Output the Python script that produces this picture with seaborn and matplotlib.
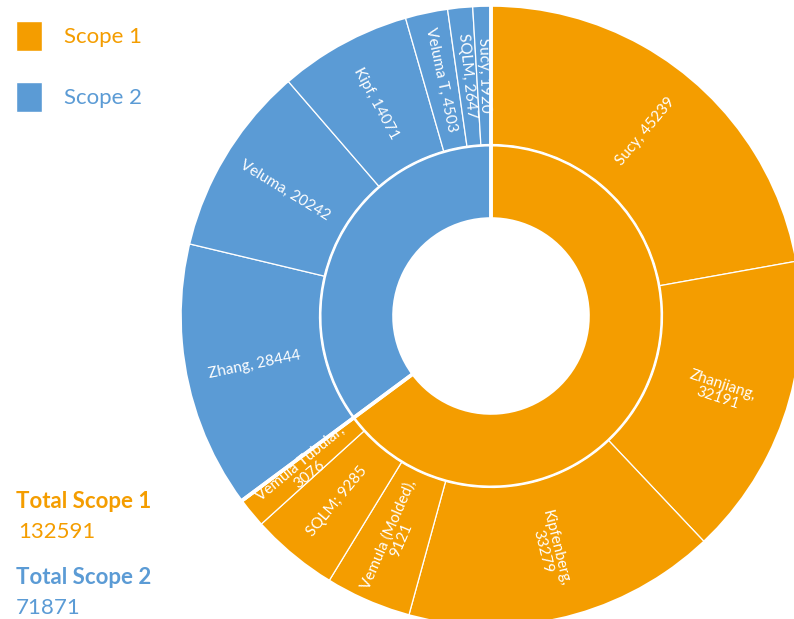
import numpy as np
import matplotlib.pyplot as plt
from matplotlib.patches import Patch
import seaborn as sns

sns.set_theme(style='white')
plt.rcParams['font.family'] = ['Lato', 'DejaVu Sans']

# --- data ---
scopes = ['Scope 1', 'Scope 2']
scope_totals = [132591, 71871]

sites = ['Sucy', 'Zhanjiang', 'Kipfenberg', 'Vemula (Molded)', 'SQLM', 'Vemula Tubular',
         'Zhang', 'Veluma', 'Kipf', 'Veluma T', 'SQLM', 'Sucy']
site_scope = ['Scope 1'] * 6 + ['Scope 2'] * 6
site_values = [45239, 32191, 33279, 9121, 9285, 3076,
               28444, 20242, 14071, 4503, 2647, 1920]
site_labels = ['Sucy, 45239', 'Zhanjiang,\n32191', 'Kipfenberg,\n33279',
               'Vemula (Molded),\n9121', 'SQLM; 9285', 'Vemula Tubular,\n3076',
               'Zhang, 28444', 'Veluma, 20242', 'Kipf, 14071', 'Veluma T, 4503',
               'SQLM, 2647', 'Sucy, 1920']

palette = dict(zip(scopes, sns.color_palette(['#F49D00', '#5B9BD5'])))

# geometry in pixels (y up)
CX, CY = 491, 303
R_IN, R_MID_IN, R_MID_OUT, R_OUT = 97, 169.5, 171.5, 311

fig = plt.figure(figsize=(7.94, 6.19), dpi=100)
ax = fig.add_axes([0, 0, 1, 1])

# inner ring: scopes
ax.pie(scope_totals, radius=R_MID_IN, center=(CX, CY), startangle=90, counterclock=False,
       colors=[palette[s] for s in scopes],
       wedgeprops=dict(width=R_MID_IN - R_IN, linewidth=0))

# outer ring: sites
ax.pie(site_values, radius=R_OUT, center=(CX, CY), startangle=90, counterclock=False,
       colors=[palette[s] for s in site_scope],
       wedgeprops=dict(width=R_OUT - R_MID_OUT, edgecolor='white', linewidth=0.9))

# thick white separators between the two scopes
ax.pie(scope_totals, radius=R_OUT, center=(CX, CY), startangle=90, counterclock=False,
       wedgeprops=dict(width=R_OUT - R_IN, facecolor='none', edgecolor='white', linewidth=2.6))

# radial labels in the outer ring
vals = np.array(site_values, dtype=float)
mids = (np.cumsum(vals) - vals / 2) / vals.sum() * 360
r_lab = (R_OUT + R_MID_OUT) / 2
for lab, m in zip(site_labels, mids):
    theta = 90 - m
    x = CX + r_lab * np.cos(np.radians(theta))
    y = CY + r_lab * np.sin(np.radians(theta))
    rot = theta % 360
    if 90 < rot < 270:
        rot -= 180
    ax.text(x, y, lab, color='white', fontsize=11, ha='center', va='center',
            rotation=rot, rotation_mode='anchor', multialignment='center', linespacing=1.0)

ax.set_xlim(0, 794)
ax.set_ylim(0, 619)
ax.set_aspect('equal')
ax.axis('off')

# legend
handles = [Patch(facecolor=palette[s], label=s) for s in scopes]
ax.legend(handles=handles, loc='upper left', bbox_to_anchor=(16 / 794, 1 - 21 / 619),
          frameon=False, fontsize=16, handlelength=1.17, handleheight=1.7,
          handletextpad=1.0, labelspacing=1.4, borderpad=0, borderaxespad=0,
          labelcolor=[palette[s] for s in scopes])

# totals
ax.text(16, 619 - 501, 'Total Scope 1', color=palette['Scope 1'], fontsize=16,
        fontweight='bold', va='center')
ax.text(18, 619 - 532, str(scope_totals[0]), color=palette['Scope 1'], fontsize=16,
        fontweight='normal', va='center')
ax.text(16, 619 - 577, 'Total Scope 2', color=palette['Scope 2'], fontsize=16,
        fontweight='bold', va='center')
ax.text(16, 619 - 608, str(scope_totals[1]), color=palette['Scope 2'], fontsize=16,
        fontweight='normal', va='center')

fig.savefig('out.png', dpi=100)
